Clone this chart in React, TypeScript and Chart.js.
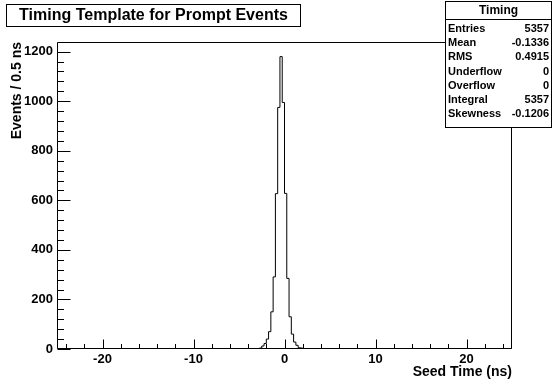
import { useEffect, useRef } from "react";
import { Chart, registerables } from "chart.js";

Chart.register(...registerables);

// ---- data ----
const BIN_WIDTH = 0.25;
const X_MIN = -25;
const X_MAX = 25;
const Y_MAX = 1239;
const binLowEdges = [-2.5, -2.25, -2.0, -1.75, -1.5, -1.25, -1.0, -0.75, -0.5, -0.25, 0.0, 0.25, 0.5, 0.75, 1.0, 1.25, 1.5, 1.75, 2.0];
const binCounts = [4, 12, 22, 40, 70, 150, 291, 627, 975, 1180, 995, 628, 285, 130, 60, 28, 15, 5, 4];
const xTickValues = [-20, -10, 0, 10, 20];
const yTickValues = [0, 200, 400, 600, 800, 1000, 1200];
const histTitle = "Timing Template for Prompt Events";
const statsName = "Timing";
const statLabels = ["Entries", "Mean", "RMS", "Underflow", "Overflow", "Integral", "Skewness"];
const statValues = ["5357", "-0.1336", "0.4915", "0", "0", "5357", "-0.1206"];
const xTitle = "Seed Time (ns)";
const yTitle = "Events / 0.5 ns";

const FONT = "'Liberation Sans', Arial, Helvetica, sans-serif";

function buildPoints() {
  const nBins = Math.round((X_MAX - X_MIN) / BIN_WIDTH);
  const counts = new Array(nBins).fill(0);
  binLowEdges.forEach((lo, i) => {
    const idx = Math.round((lo - X_MIN) / BIN_WIDTH);
    if (idx >= 0 && idx < nBins) counts[idx] = binCounts[i];
  });
  const pts = counts.map((c, i) => ({ x: X_MIN + i * BIN_WIDTH, y: c }));
  pts.push({ x: X_MAX, y: counts[nBins - 1] });
  return pts;
}

const rootPlugin = {
  id: "rootStyle",
  afterDraw(chart: any) {
    const { ctx, chartArea: a, scales } = chart;
    const xs = scales.x;
    const ys = scales.y;
    ctx.save();
    ctx.strokeStyle = "#000";
    ctx.fillStyle = "#000";
    ctx.lineWidth = 1;
    const L = Math.round(a.left) + 0.5;
    const R = Math.round(a.right) - 0.5;
    const T = Math.round(a.top) + 0.5;
    const B = Math.round(a.bottom) - 0.5;
    ctx.beginPath();
    ctx.rect(L, T, R - L, B - T);
    ctx.stroke();

    // y ticks (inside, left)
    ctx.beginPath();
    for (let v = 0; v <= ys.max + 1e-6; v += 40) {
      const y = Math.round(ys.getPixelForValue(v)) + 0.5;
      const major = Math.abs(v % 200) < 1e-6;
      const len = major ? 13 : 6.5;
      ctx.moveTo(L, y);
      ctx.lineTo(L + len, y);
    }
    // x ticks (inside, bottom)
    for (let v = -24; v <= 24 + 1e-6; v += 2) {
      const x = Math.round(xs.getPixelForValue(v)) + 0.5;
      const major = Math.abs(v % 10) < 1e-6;
      const len = major ? 9 : 4.5;
      ctx.moveTo(x, B);
      ctx.lineTo(x, B - len);
    }
    ctx.stroke();

    // axis titles
    ctx.font = `bold 14px ${FONT}`;
    ctx.textAlign = "right";
    ctx.textBaseline = "middle";
    ctx.fillText(xTitle, a.right, 372);
    ctx.save();
    ctx.translate(17, a.top);
    ctx.rotate(-Math.PI / 2);
    ctx.textAlign = "right";
    ctx.fillText(yTitle, 0, 0);
    ctx.restore();

    // title box
    ctx.fillStyle = "#fff";
    ctx.fillRect(6, 4, 295, 23);
    ctx.strokeRect(6.5, 4.5, 294, 22);
    ctx.fillStyle = "#000";
    ctx.font = `bold 16px ${FONT}`;
    ctx.textAlign = "center";
    ctx.textBaseline = "middle";
    ctx.fillText(histTitle, 153.5, 16);

    // stats box
    const sx = 445, sy = 1, sw = 107, sh = 127;
    ctx.fillStyle = "#fff";
    ctx.fillRect(sx, sy, sw, sh);
    ctx.strokeRect(sx + 0.5, sy + 0.5, sw - 1, sh - 1);
    ctx.beginPath();
    ctx.moveTo(sx, 19.5);
    ctx.lineTo(sx + sw, 19.5);
    ctx.stroke();
    ctx.fillStyle = "#000";
    ctx.font = `bold 12px ${FONT}`;
    ctx.textAlign = "center";
    ctx.fillText(statsName, sx + sw / 2, 10.5);
    ctx.font = `bold 11px ${FONT}`;
    statLabels.forEach((lab, i) => {
      const y = 29 + i * 14.2;
      ctx.textAlign = "left";
      ctx.fillText(lab, sx + 3, y);
      ctx.textAlign = "right";
      ctx.fillText(statValues[i], sx + sw - 3, y);
    });
    ctx.restore();
  },
};

export default function App() {
  const ref = useRef<HTMLCanvasElement | null>(null);
  useEffect(() => {
    if (!ref.current) return;
    const chart = new Chart(ref.current, {
      type: "line",
      data: {
        datasets: [
          {
            data: buildPoints(),
            stepped: "after",
            borderColor: "#000",
            borderWidth: 1,
            pointRadius: 0,
            fill: false,
          },
        ],
      },
      options: {
        animation: false,
        responsive: false,
        layout: { padding: { top: 42, right: 41, left: 0, bottom: 0 } },
        plugins: { legend: { display: false }, tooltip: { enabled: false }, title: { display: false } },
        scales: {
          x: {
            type: "linear",
            min: X_MIN,
            max: X_MAX,
            grid: { display: false, drawTicks: false },
            border: { display: false },
            afterFit: (s: any) => { s.height = 36; },
            afterBuildTicks: (s: any) => { s.ticks = xTickValues.map((v) => ({ value: v })); },
            ticks: {
              color: "#000",
              font: { family: FONT, size: 13, weight: "bold" },
              padding: 3,
              maxRotation: 0,
              autoSkip: false,
              callback: (v: any) => String(v),
            },
          },
          y: {
            type: "linear",
            min: 0,
            max: Y_MAX,
            grid: { display: false, drawTicks: false },
            border: { display: false },
            afterFit: (s: any) => { s.width = 57; },
            afterBuildTicks: (s: any) => { s.ticks = yTickValues.map((v) => ({ value: v })); },
            ticks: {
              color: "#000",
              font: { family: FONT, size: 13, weight: "bold" },
              padding: 4,
              autoSkip: false,
              callback: (v: any) => String(v),
            },
          },
        },
      },
      plugins: [rootPlugin],
    });
    return () => chart.destroy();
  }, []);
  return (
    <div style={{ position: "fixed", left: 0, top: 0, width: 553, height: 385, background: "#fff" }}>
      <canvas ref={ref} width={553} height={385} />
    </div>
  );
}
